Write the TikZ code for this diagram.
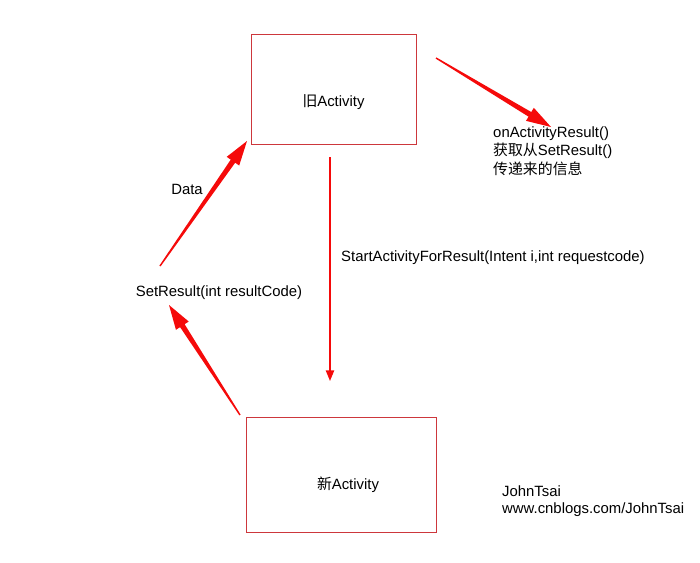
\documentclass[tikz,border=0pt]{standalone}
\usepackage{fontspec}
\setmainfont{Liberation Sans}
\newfontfamily\cjk{Noto Sans CJK SC}
\usetikzlibrary{calc,arrows.meta}
\definecolor{boxred}{RGB}{205,55,60}
\definecolor{arrred}{RGB}{245,10,10}
% fat tapered arrow between two named coordinates
\newcommand{\fatarrow}[2]{%
\coordinate (hb) at ($(#2)!21pt!(#1)$);
\fill[arrred] ($(#1)!0.6pt!90:(#2)$) -- ($(hb)!2.3pt!-90:(#1)$) -- ($(hb)!6.5pt!-90:(#1)$) -- (#2)
 -- ($(hb)!6.5pt!90:(#1)$) -- ($(hb)!2.3pt!90:(#1)$) -- ($(#1)!0.6pt!-90:(#2)$) -- cycle;}
\begin{document}
\begin{tikzpicture}[x=0.03cm,y=-0.03cm,
 actbox/.style={rectangle,minimum width=4.95cm,minimum height=3.3cm,draw=boxred,line width=0.6pt},
 txt/.style={font=\fontsize{12.7}{16}\selectfont,inner sep=0pt}]
\useasboundingbox (0,0) rectangle (700,563);
\draw (333.5,89)node[actbox](old){};
\draw (341,474.5)node[actbox,minimum width=5.7cm,minimum height=3.45cm](new){};
\draw ([yshift=-13*0.03cm]old.center)node[txt]{{\cjk 旧}Activity};
\draw ([xshift=7*0.03cm,yshift=-10.5*0.03cm]new.center)node[txt]{{\cjk 新}Activity};

\draw (493,126)node[txt,anchor=north west,align=left](res){onActivityResult()\\{\cjk 获取从}SetResult()\\{\cjk 传递来的信息}};
\draw (341,258)node[txt,anchor=west](start){StartActivityForResult(Intent i,int requestcode)};
\draw (187,189)node[txt](data){Data};
\draw (219,293)node[txt](set){SetResult(int resultCode)};
\draw (502,491)node[txt,anchor=west](author){JohnTsai};
\draw (502,509.5)node[txt,anchor=west](blog){www.cnblogs.com/JohnTsai};

% arrows
\coordinate (a1) at (436,58);
\coordinate (a2) at (551,127);
\fatarrow{a1}{a2}
\coordinate (d1) at (160,266);
\coordinate (d2) at (247,141);
\fatarrow{d1}{d2}
\coordinate (s1) at (240,415);
\coordinate (s2) at (169,305);
\fatarrow{s1}{s2}
\coordinate (v1) at (330,157);
\coordinate (v2) at (330,381);
\draw[arrred,line width=1.3pt,-{Triangle[width=7pt,length=9pt]}](v1)--(v2);
\end{tikzpicture}
\end{document}
